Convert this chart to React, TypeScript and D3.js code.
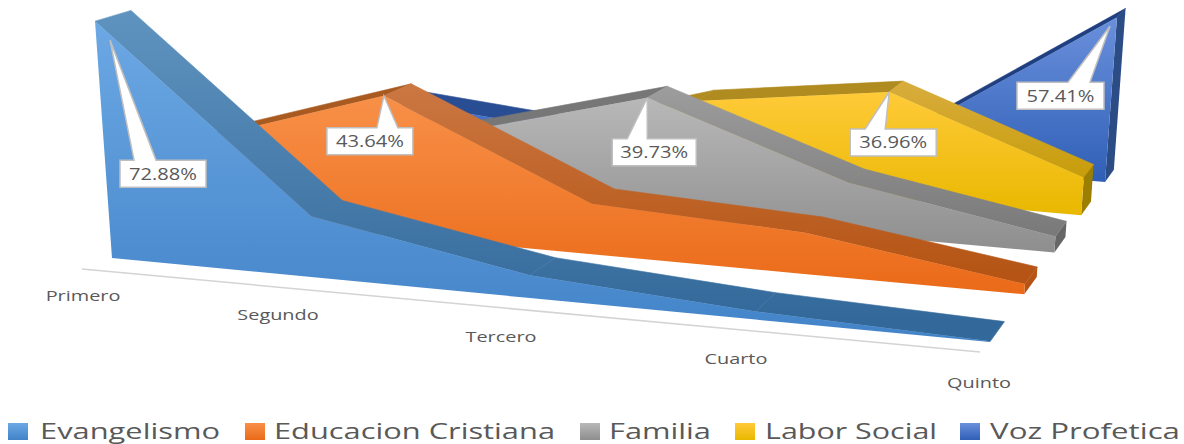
import React, { useEffect, useRef } from 'react';
import * as d3 from 'd3';

const categories = ['Primero', 'Segundo', 'Tercero', 'Cuarto', 'Quinto'];
const seriesNames = ['Evangelismo', 'Educacion Cristiana', 'Familia', 'Labor Social', 'Voz Profetica'];

const evangelismo = [72.88, 18.8, 7, 2.5, 0.2];
const educacion = [24, 43.64, 15.8, 12.9, 3.2];
const familia = [18, 22, 39.73, 17.2, 5.4];
const laborSocial = [4, 9, 28, 36.96, 13.2];
const vozProfetica = [7, 2, 10, 14, 57.41];
const seriesValues = [evangelismo, educacion, familia, laborSocial, vozProfetica];

// index of the labelled point of each series
const labelledPoint = [0, 1, 2, 3, 4];

const faceColors = [
  ['#6ca8e4', '#4283c8'],
  ['#f89048', '#ea6a18'],
  ['#b8b8b8', '#8e8e8e'],
  ['#ffca38', '#e8b800'],
  ['#6a90dc', '#2f5fb6'],
];
const bandColors = [
  ['#5f93bf', '#33699a'],
  ['#cb7742', '#b55414'],
  ['#9c9c9c', '#7a7a7a'],
  ['#d8ac3c', '#c49a00'],
  ['#2b5098', '#284c90'],
];
const risingColors = ['#4f80ad', '#a85a20', '#777777', '#b08c20', '#1f3f80'];
const capColors = ['#33699a', '#b55414', '#666666', '#9c7e00', '#2c4c86'];

// callout box, relative to the labelled point
const labelBoxes = [
  { tipDx: 15, tipDy: 19, x: 25, y: 139, w: 86, h: 27, b1: 39, b2: 61 },
  { tipDx: 0, tipDy: 0, x: -57, y: 32, w: 86, h: 27, b1: -7, b2: 14 },
  { tipDx: 0, tipDy: 0, x: -35, y: 41, w: 84, h: 27, b1: -20, b2: 0 },
  { tipDx: 0, tipDy: 0, x: -39, y: 37, w: 86, h: 27, b1: -24, b2: -4 },
  { tipDx: -7, tipDy: 9, x: -100, y: 65, w: 87, h: 27, b1: -49, b2: -27 },
];

const legendSwatch = [8, 245, 580, 735, 960];
const legendText = [[40, 180], [274, 281], [609, 102], [765, 172], [990, 190]];

// four corners of the floor on screen, used to build the perspective mapping
const floorCorners = [[112, 258], [990, 342], [1105, 182], [402, 122]];
const depthStep = 1;
const depthWidth = 0.4;
const vanishX = 602;
const vanishY = 7096;

function floorProjection(c: number[][]) {
  const [[x0, y0], [x1, y1], [x2, y2], [x3, y3]] = c;
  const dx1 = x1 - x2, dx2 = x3 - x2, sx = x0 - x1 + x2 - x3;
  const dy1 = y1 - y2, dy2 = y3 - y2, sy = y0 - y1 + y2 - y3;
  const den = dx1 * dy2 - dx2 * dy1;
  const g = (sx * dy2 - dx2 * sy) / den;
  const h = (dx1 * sy - sx * dy1) / den;
  const a = x1 - x0 + g * x1, b = x3 - x0 + h * x3;
  const d = y1 - y0 + g * y1, e = y3 - y0 + h * y3;
  const map = (u: number, v: number) => {
    const w = g * u + h * v + 1;
    return [(a * u + b * v + x0) / w, (d * u + e * v + y0) / w];
  };
  return { map, depthVanish: [b / h, e / h] };
}

const App = () => {
  const svgRef = useRef<SVGSVGElement>(null);

  useEffect(() => {
    const svg = d3.select(svgRef.current);
    svg.selectAll('*').remove();

    const { map: floor, depthVanish } = floorProjection(floorCorners);
    const uScale = d3.scalePow().exponent(1.03).domain([0, categories.length - 1]).range([0, 1]);
    const vScale = d3.scaleLinear().domain([0, (seriesNames.length - 1) * depthStep]).range([0, 1]);
    const heightScale = d3.scaleLinear().domain([0, 1, 2, 3, 4]).range([3.25, 3.2, 2.97, 2.87, 2.87]);

    // category index, depth and value to a screen point
    const project = (i: number, depth: number, value: number): [number, number] => {
      const [bx, by] = floor(uScale(i), vScale(depth));
      const h = value * heightScale(depth);
      const lean = (bx - vanishX) / (vanishY - by);
      return [bx + lean * h, by - h];
    };

    // slide a front point back along its depth line
    const pushBack = (i: number, near: number, far: number, p: [number, number]): [number, number] => {
      const a = project(i, near, 0);
      const b = project(i, far, 0);
      const f = (b[1] - depthVanish[1]) / (a[1] - depthVanish[1]);
      return [depthVanish[0] + (p[0] - depthVanish[0]) * f, depthVanish[1] + (p[1] - depthVanish[1]) * f];
    };

    const polygon = d3.line().curve(d3.curveLinearClosed);
    const defs = svg.append('defs');

    const gradient = (id: string, colors: string[], y1: number, y2: number) => {
      const g = defs.append('linearGradient').attr('id', id)
        .attr('gradientUnits', 'userSpaceOnUse')
        .attr('x1', 0).attr('x2', 0).attr('y1', y1).attr('y2', y2);
      g.append('stop').attr('offset', 0).attr('stop-color', colors[0]);
      g.append('stop').attr('offset', 1).attr('stop-color', colors[1]);
    };

    const chart = svg.append('g');

    // back series first
    d3.range(seriesNames.length - 1, -1, -1).forEach(s => {
      const values = seriesValues[s];
      const near = s * depthStep;
      const far = near + depthWidth;
      const topFront = values.map((v, i) => project(i, near, v));
      const topBack = topFront.map((p, i) => pushBack(i, near, far, p));
      const baseFront = values.map((_, i) => project(i, near, 0));
      const last = values.length - 1;
      const top = d3.min(topFront, p => p[1]) as number;
      const bottom = d3.max(baseFront, p => p[1]) as number;

      gradient(`face${s}`, faceColors[s], top, bottom);
      gradient(`band${s}`, bandColors[s], top - 8, bottom - 20);

      chart.append('path')
        .attr('d', polygon([topFront[last], baseFront[last], project(last, far, 0), topBack[last]]))
        .attr('fill', capColors[s]);

      d3.range(last).forEach(i => {
        const rising = topFront[i + 1][1] < topFront[i][1];
        const fill = rising ? risingColors[s] : `url(#band${s})`;
        chart.append('path')
          .attr('d', polygon([topFront[i], topFront[i + 1], topBack[i + 1], topBack[i]]))
          .attr('fill', fill)
          .attr('stroke', fill)
          .attr('stroke-width', 0.6);
      });

      chart.append('path')
        .attr('d', polygon([...topFront, ...baseFront.slice().reverse()]))
        .attr('fill', `url(#face${s})`);
    });

    // category axis
    const axisFrom = [82, 269];
    const axisTo = [980, 352];
    svg.append('line')
      .attr('x1', axisFrom[0]).attr('y1', axisFrom[1])
      .attr('x2', axisTo[0]).attr('y2', axisTo[1])
      .attr('stroke', '#d4d4d4').attr('stroke-width', 1.5);

    const tickX = d3.scalePow().exponent(1.1).domain([0, categories.length - 1]).range([83, 979]);
    const tickY = d3.scaleLinear().domain(tickX.range()).range([301, 388]);
    categories.forEach((c, i) => {
      const x = tickX(i);
      svg.append('text')
        .attr('transform', `translate(${x},${tickY(x)}) scale(1.42,1)`)
        .attr('text-anchor', 'middle')
        .attr('font-family', '"Open Sans", sans-serif')
        .attr('font-size', 14)
        .attr('fill', '#595959')
        .text(c);
    });

    // callouts
    labelBoxes.forEach((b, s) => {
      const i = labelledPoint[s];
      const value = seriesValues[s][i];
      const [ax, ay] = project(i, s * depthStep, value);
      const left = ax + b.x, boxTop = ay + b.y;
      svg.append('path')
        .attr('d', `M${left},${boxTop}L${ax + b.b1},${boxTop}L${ax + b.tipDx},${ay + b.tipDy}L${ax + b.b2},${boxTop}`
          + `L${left + b.w},${boxTop}L${left + b.w},${boxTop + b.h}L${left},${boxTop + b.h}Z`)
        .attr('fill', '#ffffff')
        .attr('stroke', '#bfbfbf')
        .attr('stroke-width', 1.5);
      svg.append('text')
        .attr('x', left + b.w / 2)
        .attr('y', boxTop + b.h / 2 + 6)
        .attr('text-anchor', 'middle')
        .attr('font-family', '"Open Sans", sans-serif')
        .attr('font-size', 16)
        .attr('textLength', 68)
        .attr('lengthAdjust', 'spacingAndGlyphs')
        .attr('fill', '#595959')
        .text(`${value.toFixed(2)}%`);
    });

    // legend
    seriesNames.forEach((name, s) => {
      gradient(`swatch${s}`, faceColors[s], 423, 440);
      svg.append('rect')
        .attr('x', legendSwatch[s]).attr('y', 423)
        .attr('width', 20).attr('height', 17)
        .attr('fill', `url(#swatch${s})`);
      svg.append('text')
        .attr('x', legendText[s][0]).attr('y', 439)
        .attr('font-family', '"Open Sans", sans-serif')
        .attr('font-size', 22)
        .attr('textLength', legendText[s][1])
        .attr('lengthAdjust', 'spacingAndGlyphs')
        .attr('fill', '#595959')
        .text(name);
    });
  }, []);

  return <svg ref={svgRef} width={1184} height={444} style={{ position: 'absolute', left: 0, top: 0, display: 'block' }}></svg>;
};

export default App;
